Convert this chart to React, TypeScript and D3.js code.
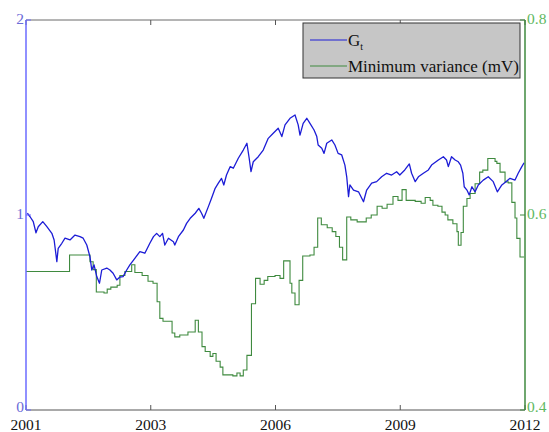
import React from "react";
import * as d3 from "d3";

// Figure size and plot box
const W = 549;
const H = 432;
const M = { left: 26, right: 525, top: 20, bottom: 410 };

// Axis settings
const yearDomain: [number, number] = [2001, 2012];
const xTickLabels = ["2001", "2003", "2006", "2009", "2012"];
const leftDomain: [number, number] = [0, 2];
const leftTicks = [0, 1, 2];
const rightDomain: [number, number] = [0.4, 0.8];
const rightTicks = [0.4, 0.6, 0.8];

// G_t (left axis): [decimal year, value]
const gtSeries: [number, number][] = [
  [2001.03, 1.009], [2001.09, 0.991], [2001.16, 0.966], [2001.22, 0.909], [2001.27, 0.94],
  [2001.37, 0.966], [2001.46, 0.94], [2001.57, 0.906], [2001.62, 0.872], [2001.68, 0.761],
  [2001.71, 0.829], [2001.79, 0.855], [2001.86, 0.881], [2001.97, 0.872], [2002.08, 0.897],
  [2002.19, 0.889], [2002.26, 0.881], [2002.34, 0.846], [2002.41, 0.786], [2002.45, 0.718],
  [2002.5, 0.744], [2002.56, 0.684], [2002.62, 0.65], [2002.67, 0.718], [2002.78, 0.728],
  [2002.85, 0.718], [2002.92, 0.701], [2003.0, 0.667], [2003.07, 0.682], [2003.14, 0.684],
  [2003.22, 0.718], [2003.29, 0.744], [2003.37, 0.769], [2003.51, 0.812], [2003.62, 0.804],
  [2003.73, 0.855], [2003.81, 0.889], [2003.88, 0.906], [2003.95, 0.889], [2004.01, 0.906],
  [2004.06, 0.846], [2004.14, 0.881], [2004.25, 0.863], [2004.28, 0.846], [2004.36, 0.889],
  [2004.47, 0.923], [2004.54, 0.957], [2004.62, 0.983], [2004.73, 1.009], [2004.81, 1.034],
  [2004.87, 1.009], [2004.92, 0.983], [2005.02, 1.043], [2005.09, 1.086], [2005.17, 1.137],
  [2005.24, 1.163], [2005.31, 1.188], [2005.36, 1.154], [2005.42, 1.205], [2005.5, 1.248],
  [2005.57, 1.24], [2005.68, 1.291], [2005.79, 1.333], [2005.87, 1.368], [2005.92, 1.291],
  [2005.96, 1.222], [2006.01, 1.273], [2006.12, 1.299], [2006.23, 1.333], [2006.34, 1.393],
  [2006.45, 1.419], [2006.56, 1.445], [2006.64, 1.402], [2006.71, 1.462], [2006.82, 1.496],
  [2006.93, 1.513], [2007.0, 1.462], [2007.04, 1.41], [2007.11, 1.47], [2007.19, 1.496],
  [2007.26, 1.47], [2007.35, 1.436], [2007.41, 1.402], [2007.44, 1.359], [2007.52, 1.342],
  [2007.57, 1.316], [2007.63, 1.368], [2007.74, 1.385], [2007.81, 1.359], [2007.88, 1.316],
  [2007.96, 1.308], [2008.03, 1.256], [2008.07, 1.196], [2008.11, 1.094], [2008.14, 1.154],
  [2008.22, 1.128], [2008.33, 1.119], [2008.44, 1.068], [2008.51, 1.128], [2008.62, 1.163],
  [2008.73, 1.171], [2008.84, 1.196], [2008.95, 1.214], [2009.06, 1.205], [2009.17, 1.222],
  [2009.24, 1.205], [2009.35, 1.231], [2009.45, 1.262], [2009.5, 1.214], [2009.58, 1.171],
  [2009.65, 1.196], [2009.76, 1.214], [2009.87, 1.231], [2009.94, 1.256], [2010.09, 1.282],
  [2010.2, 1.299], [2010.27, 1.282], [2010.31, 1.248], [2010.38, 1.299], [2010.46, 1.282],
  [2010.53, 1.273], [2010.58, 1.256], [2010.63, 1.214], [2010.66, 1.145], [2010.72, 1.128],
  [2010.77, 1.103], [2010.83, 1.145], [2010.9, 1.119], [2010.97, 1.154], [2011.08, 1.179],
  [2011.19, 1.196], [2011.3, 1.171], [2011.39, 1.119], [2011.49, 1.154], [2011.58, 1.171],
  [2011.67, 1.188], [2011.78, 1.179], [2011.85, 1.214], [2011.93, 1.248], [2011.98, 1.268],
];

// Minimum variance (right axis), step levels: [start year, value]
const mvSteps: [number, number][] = [
  [2001.0, 0.542], [2001.96, 0.559], [2002.41, 0.552], [2002.48, 0.544], [2002.55, 0.521],
  [2002.72, 0.52], [2002.79, 0.524], [2002.87, 0.526], [2003.01, 0.528], [2003.07, 0.538],
  [2003.18, 0.542], [2003.33, 0.549], [2003.4, 0.541], [2003.56, 0.538], [2003.69, 0.532],
  [2003.8, 0.53], [2003.89, 0.511], [2003.95, 0.494], [2004.02, 0.491], [2004.22, 0.479],
  [2004.28, 0.475], [2004.39, 0.477], [2004.57, 0.48], [2004.73, 0.492], [2004.8, 0.48],
  [2004.88, 0.465], [2004.95, 0.46], [2005.06, 0.455], [2005.12, 0.458], [2005.19, 0.45],
  [2005.28, 0.444], [2005.34, 0.436], [2005.56, 0.435], [2005.65, 0.438], [2005.72, 0.435],
  [2005.79, 0.441], [2005.87, 0.456], [2005.97, 0.509], [2006.06, 0.535], [2006.16, 0.529],
  [2006.25, 0.533], [2006.33, 0.537], [2006.49, 0.538], [2006.6, 0.535], [2006.68, 0.553],
  [2006.82, 0.53], [2006.86, 0.52], [2006.93, 0.508], [2007.02, 0.533], [2007.1, 0.558],
  [2007.26, 0.559], [2007.35, 0.567], [2007.43, 0.597], [2007.51, 0.59], [2007.64, 0.587],
  [2007.75, 0.583], [2007.83, 0.578], [2007.91, 0.567], [2007.98, 0.554], [2008.07, 0.598],
  [2008.16, 0.595], [2008.3, 0.593], [2008.41, 0.593], [2008.5, 0.597], [2008.61, 0.6],
  [2008.74, 0.609], [2008.85, 0.607], [2008.96, 0.611], [2009.09, 0.619], [2009.2, 0.615],
  [2009.29, 0.626], [2009.38, 0.615], [2009.58, 0.614], [2009.71, 0.612], [2009.8, 0.618],
  [2009.91, 0.615], [2009.97, 0.61], [2010.08, 0.609], [2010.17, 0.603], [2010.24, 0.6],
  [2010.3, 0.595], [2010.41, 0.591], [2010.5, 0.583], [2010.53, 0.569], [2010.59, 0.582],
  [2010.64, 0.609], [2010.72, 0.617], [2010.79, 0.622], [2010.9, 0.632], [2011.0, 0.644],
  [2011.07, 0.646], [2011.18, 0.658], [2011.34, 0.655], [2011.38, 0.653], [2011.45, 0.644],
  [2011.56, 0.634], [2011.63, 0.633], [2011.71, 0.613], [2011.78, 0.597], [2011.82, 0.576],
  [2011.89, 0.557], [2011.98, 0.557],
];

const legendLabels = ["G", "Minimum variance (mV)"];

const BLUE = "#1c1cd6";
const GREEN = "#3f8a3f";
const FONT = "Liberation Serif, Times New Roman, serif";

export default function App() {
  const x = d3.scaleLinear().domain(yearDomain).range([M.left, M.right]);
  const yL = d3.scaleLinear().domain(leftDomain).range([M.bottom, M.top]);
  const yR = d3.scaleLinear().domain(rightDomain).range([M.bottom, M.top]);

  const gtLine = d3
    .line<[number, number]>()
    .x((d) => x(d[0]))
    .y((d) => yL(d[1]))(gtSeries) as string;

  const mvLine = d3
    .line<[number, number]>()
    .curve(d3.curveStepAfter)
    .x((d) => x(d[0]))
    .y((d) => yR(d[1]))(mvSteps) as string;

  const step = (yearDomain[1] - yearDomain[0]) / (xTickLabels.length - 1);
  const xTicks = xTickLabels.map((label, i) => ({ label, pos: x(yearDomain[0] + i * step) }));
  const tickLen = 5;
  const txt = { fontFamily: FONT };
  // the lowest y labels sit a touch higher so they clear the year labels
  const yLabelOffset = (i: number) => (i === 0 ? 2 : 4);

  return (
    <svg
      width={W}
      height={H}
      style={{ position: "absolute", left: 0, top: 0, background: "#fff", fontFamily: FONT }}
    >
      <rect x={0} y={0} width={W} height={H} fill="#fff" />

      {/* data */}
      <path d={mvLine} fill="none" stroke={GREEN} strokeWidth={1.1} />
      <path d={gtLine} fill="none" stroke={BLUE} strokeWidth={1.3} strokeLinejoin="round" />

      {/* box: top and bottom */}
      <line x1={M.left} x2={M.right} y1={M.top} y2={M.top} stroke="#6a6a6a" strokeWidth={1} />
      <line x1={M.left} x2={M.right} y1={M.bottom} y2={M.bottom} stroke="#555" strokeWidth={1} />

      {/* x ticks, inside on bottom and top */}
      {xTicks.map((t) => (
        <g key={t.label}>
          <line x1={t.pos} x2={t.pos} y1={M.bottom} y2={M.bottom - tickLen} stroke="#555" />
          <line x1={t.pos} x2={t.pos} y1={M.top} y2={M.top + tickLen} stroke="#555" />
          <text x={t.pos} y={M.bottom + 20} fontSize={15.5} textAnchor="middle" fill="#111" style={txt}>
            {t.label}
          </text>
        </g>
      ))}

      {/* left axis */}
      <line x1={M.left} x2={M.left} y1={M.top} y2={M.bottom} stroke="#6b6bff" strokeWidth={1.5} />
      {leftTicks.map((v, i) => (
        <g key={`l${v}`}>
          <line x1={M.left} x2={M.left + tickLen} y1={yL(v)} y2={yL(v)} stroke="#6b6bff" />
          <text x={M.left - 2} y={yL(v) + yLabelOffset(i)} fontSize={15.5} textAnchor="end" fill="#6b6bd8" style={txt}>
            {v}
          </text>
        </g>
      ))}

      {/* right axis */}
      <line x1={M.right} x2={M.right} y1={M.top} y2={M.bottom} stroke={GREEN} strokeWidth={1.5} />
      {rightTicks.map((v, i) => (
        <g key={`r${v}`}>
          <line x1={M.right} x2={M.right - tickLen} y1={yR(v)} y2={yR(v)} stroke={GREEN} />
          <text x={M.right + 2} y={yR(v) + yLabelOffset(i)} fontSize={15.5} textAnchor="start" fill="#5fb85f" style={txt}>
            {v.toFixed(1)}
          </text>
        </g>
      ))}

      {/* legend */}
      <g>
        <rect x={303} y={23} width={217} height={55} fill="#c6c6c6" stroke="#333" strokeWidth={1} />
        <line x1={310} x2={347} y1={40} y2={40} stroke={BLUE} strokeWidth={1.2} />
        <text x={348} y={46} fontSize={17} fill="#111" style={txt}>
          {legendLabels[0]}
          <tspan fontSize={10} dy={4}>t</tspan>
        </text>
        <line x1={310} x2={347} y1={66} y2={66} stroke={GREEN} strokeWidth={1.2} />
        <text x={348} y={72} fontSize={17} fill="#111" style={txt}>
          {legendLabels[1]}
        </text>
      </g>
    </svg>
  );
}
